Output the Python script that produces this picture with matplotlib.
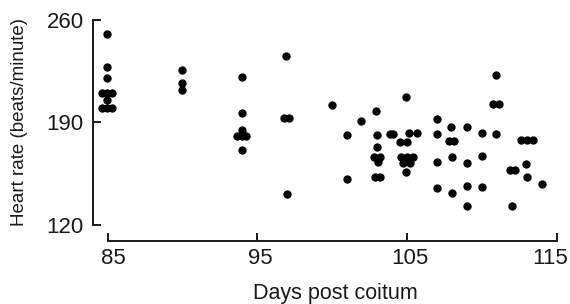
import matplotlib
matplotlib.use('Agg')
import matplotlib.pyplot as plt
from matplotlib.transforms import ScaledTranslation

# values (days post coitum, heart rate in beats/minute)
days = [84.95, 84.95, 84.95,
        84.63, 84.95, 85.27, 84.95, 84.63, 84.95, 85.27,
        89.94, 89.94, 89.94,
        93.95, 93.95, 93.95, 93.67, 93.97, 94.27, 93.95,
        96.89, 96.81, 97.12, 96.96,
        99.96, 100.97, 100.97, 101.92,
        102.92, 102.97, 102.97, 102.81, 103.19, 103.03, 102.87, 103.17,
        103.86, 104.08, 104.90, 105.10, 105.65, 104.55, 105.00,
        104.57, 105.00, 105.43, 104.76, 105.19, 104.90,
        106.98, 106.98, 106.98, 106.98,
        107.93, 107.80, 108.15, 107.98, 107.98,
        108.98, 108.98, 108.98, 108.98,
        109.98, 109.98, 109.98,
        110.94, 110.77, 111.15, 110.94,
        111.85, 112.20, 112.03,
        112.60, 113.00, 113.40, 112.94, 113.00,
        113.99]
heart_rate = [250.4, 228.1, 220.2,
              210.3, 210.3, 210.3, 205.1, 199.8, 199.8, 199.8,
              225.9, 216.8, 212.2,
              220.9, 196.3, 184.9, 181.0, 181.0, 181.0, 171.2,
              235.6, 193.3, 193.3, 141.0,
              202.0, 181.5, 151.2, 191.0,
              198.1, 181.5, 173.5, 166.6, 166.6, 162.8, 152.6, 152.6,
              181.9, 181.9, 207.2, 183.0, 183.0, 177.0, 177.0,
              166.6, 166.6, 166.6, 162.3, 162.3, 156.5,
              192.2, 181.9, 163.2, 145.1,
              187.1, 177.4, 177.4, 166.2, 142.0,
              186.7, 162.1, 146.6, 133.0,
              183.0, 167.1, 145.7,
              222.4, 202.4, 202.4, 182.1,
              157.6, 157.6, 133.0,
              178.0, 178.0, 178.0, 161.7, 152.6,
              148.0]

xticks = [85, 95, 105, 115]
yticks = [120, 190, 260]

plt.rcParams['font.family'] = ['Liberation Sans', 'DejaVu Sans']
ink = '#1a1a1a'

fig = plt.figure(figsize=(5.7, 3.04), dpi=100)
ax = fig.add_axes([0.189, 0.2599, 0.7877, 0.6743])

ax.plot(days, heart_rate, 'o', color='black', ms=6, mew=0, clip_on=False)

ax.set_xlim(85, 115)
ax.set_ylim(120, 260)
ax.set_xticks(xticks)
ax.set_yticks(yticks)

# detached axes, ticks pointing inwards
for side in ['top', 'right']:
    ax.spines[side].set_visible(False)
ax.spines['left'].set_position(('outward', 10.4))
ax.spines['bottom'].set_position(('outward', 11.3))
for side in ['left', 'bottom']:
    ax.spines[side].set_linewidth(1.4)
    ax.spines[side].set_color(ink)

ax.tick_params(axis='both', direction='in', length=5.5, width=1.4,
               color=ink, labelcolor=ink, labelsize=16)
ax.tick_params(axis='y', pad=7)
ax.tick_params(axis='x', pad=5.5)

# the printed x labels sit a little inwards of their ticks
shifts = [6, 3, 3, -7]
for lab, dx in zip(ax.get_xticklabels(), shifts):
    lab.set_transform(lab.get_transform() +
                      ScaledTranslation(dx / 100, 0, fig.dpi_scale_trans))

ax.set_xlabel('Days post coitum', fontsize=15.5, color=ink)
ax.xaxis.set_label_coords(0.508, -0.361)
ax.xaxis.label.set_va('baseline')

ax.set_ylabel('Heart rate (beats/minute)', fontsize=13.5, color=ink)
ax.yaxis.set_label_coords(-0.196, 0.5)
ax.yaxis.label.set_va('center')

fig.savefig('out.png', dpi=100, facecolor='white')
